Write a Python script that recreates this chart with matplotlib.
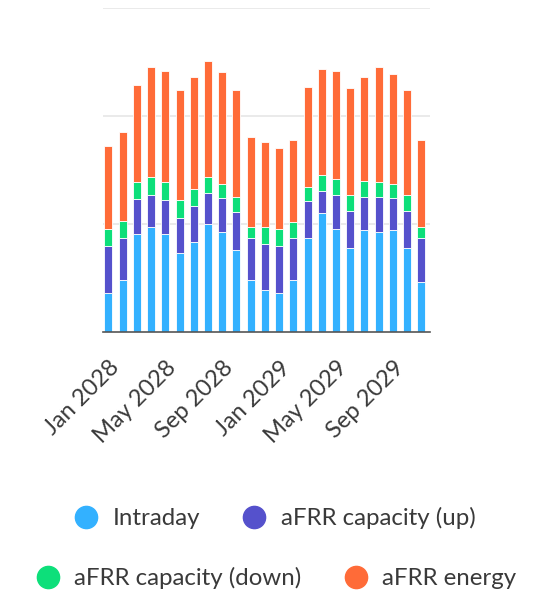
import matplotlib
matplotlib.use("Agg")
import matplotlib.pyplot as plt
import numpy as np

plt.rcParams['font.family'] = ['Lato', 'DejaVu Sans']

months = ['Jan 2028', 'Feb 2028', 'Mar 2028', 'Apr 2028', 'May 2028', 'Jun 2028',
          'Jul 2028', 'Aug 2028', 'Sep 2028', 'Oct 2028', 'Nov 2028', 'Dec 2028',
          'Jan 2029', 'Feb 2029', 'Mar 2029', 'Apr 2029', 'May 2029', 'Jun 2029',
          'Jul 2029', 'Aug 2029', 'Sep 2029', 'Oct 2029', 'Nov 2029']
intraday = [35.8, 48.1, 90.5, 97.5, 90.5, 72.9, 83.1, 99.7, 92.3, 75.9, 48.1, 38.9,
            35.8, 48.1, 87.3, 109.9, 95.6, 78.1, 94.4, 92.3, 94.4, 78.1, 46.6]
cap_up = [43.8, 38.9, 33.0, 29.4, 31.8, 32.4, 33.6, 29.3, 31.5, 34.9, 39.2, 42.3,
          43.8, 39.2, 34.3, 20.9, 31.2, 34.3, 30.8, 33.0, 29.4, 34.3, 40.7]
cap_down = [16.0, 16.0, 15.2, 16.9, 16.4, 16.9, 16.0, 14.8, 13.0, 14.4, 10.2, 16.3,
            16.0, 14.3, 12.4, 14.5, 14.5, 14.5, 14.5, 13.3, 13.0, 14.5, 10.2]
energy = [76.9, 81.9, 90.1, 101.9, 103.3, 101.9, 103.7, 107.1, 103.7, 98.8, 82.8, 78.7,
          75.0, 76.2, 93.1, 98.1, 100.6, 98.8, 96.6, 107.0, 101.9, 97.2, 80.3]
tick_months = ['Jan 2028', 'May 2028', 'Sep 2028', 'Jan 2029', 'May 2029', 'Sep 2029']

series = [
    ('Intraday', intraday, '#33b1ff'),
    ('aFRR capacity (up)', cap_up, '#5551cc'),
    ('aFRR capacity (down)', cap_down, '#0ddf7a'),
    ('aFRR energy', energy, '#ff6b38'),
]

fig = plt.figure(figsize=(5.38, 5.99), dpi=100)
ax = fig.add_axes([0.191, 0.4457, 0.608, 0.541])

x = np.arange(len(months))
bottom = np.zeros(len(months))
handles = []
for name, vals, color in series:
    vals = np.array(vals)
    ax.bar(x, vals, 0.56, bottom=bottom, color=color, edgecolor='white',
           linewidth=0.6, zorder=3)
    handles.append(plt.Line2D([], [], marker='o', linestyle='', markersize=16,
                              markerfacecolor=color, markeredgecolor=color, label=name))
    bottom += vals

ax.set_xlim(-0.4, 22.6)
ax.set_ylim(0, 300)
ax.set_yticks([100, 200, 300])
ax.yaxis.grid(True, color='#e6e6e6', linewidth=1.2, zorder=0)
ax.tick_params(axis='y', left=False, labelleft=False)
for s in ['top', 'right', 'left']:
    ax.spines[s].set_visible(False)
ax.spines['bottom'].set_color('#555555')
ax.spines['bottom'].set_linewidth(1.2)
ax.spines['bottom'].set_zorder(4)

ax.set_xticks([months.index(m) for m in tick_months])
ax.set_xticklabels(tick_months, rotation=45, ha='right', rotation_mode='anchor',
                   fontsize=17, color='#3a3a3a')
ax.tick_params(axis='x', length=0, pad=18)

leg_kw = dict(loc='center', ncol=2, frameon=False, fontsize=17.3, handlelength=1.0,
              handletextpad=0.6, columnspacing=1.75, labelcolor='#3a3a3a')
fig.legend(handles=handles[:2], bbox_to_anchor=(0.511, 0.135), **leg_kw)
fig.legend(handles=handles[2:], bbox_to_anchor=(0.513, 0.035), **leg_kw)

fig.savefig('out.png', dpi=100)
